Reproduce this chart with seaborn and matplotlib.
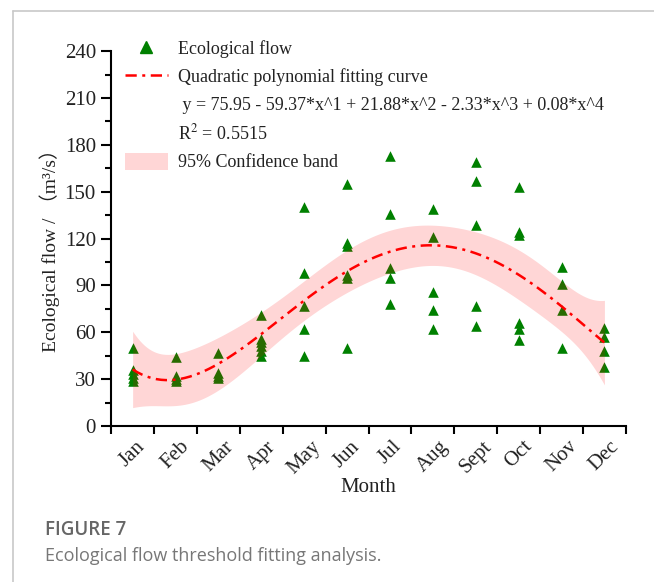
import numpy as np
import pandas as pd
import seaborn as sns
import matplotlib
matplotlib.use("Agg")
import matplotlib.pyplot as plt
from matplotlib.lines import Line2D
from matplotlib.patches import Patch

months = ["Jan", "Feb", "Mar", "Apr", "May", "Jun", "Jul", "Aug", "Sept", "Oct", "Nov", "Dec"]
jan = [50, 36, 33, 31, 29]
feb = [44, 32, 30, 29]
mar = [47, 34, 32, 31]
apr = [71, 56, 54, 51, 48, 45]
may = [140, 98, 77, 62, 45]
jun = [155, 117, 115, 97, 95, 50]
jul = [173, 136, 101, 95, 78]
aug = [139, 121, 86, 74, 62]
sep = [169, 157, 129, 77, 64]
oct_ = [153, 124, 122, 66, 62, 55]
nov = [102, 91, 74, 50]
dec = [63, 57, 48, 38]
flows = [jan, feb, mar, apr, may, jun, jul, aug, sep, oct_, nov, dec]
y_ticks = [0, 30, 60, 90, 120, 150, 180, 210, 240]

equation = "y = 75.95 - 59.37*x^1 + 21.88*x^2 - 2.33*x^3 + 0.08*x^4"
r2_text = "R$^2$ = 0.5515"

rows = []
for i, vals in enumerate(flows, start=1):
    for v in vals:
        rows.append({"month": i, "flow": v})
df = pd.DataFrame(rows)

# analytic 95% confidence band of the 4th-order polynomial fit
order = 4
xv = df["month"].to_numpy(float)
yv = df["flow"].to_numpy(float)
X = np.vander(xv, order + 1)
beta, *_ = np.linalg.lstsq(X, yv, rcond=None)
resid = yv - X @ beta
dof = len(yv) - (order + 1)
s2 = resid @ resid / dof
cov = s2 * np.linalg.inv(X.T @ X)
grid = np.linspace(xv.min(), xv.max(), 200)
G = np.vander(grid, order + 1)
yhat = G @ beta
se = np.sqrt(np.einsum("ij,jk,ik->i", G, cov, G))
t_crit = 2.005  # Student t, 0.975 quantile, ~54 dof
lo, hi = yhat - t_crit * se, yhat + t_crit * se

sns.set_theme(style="ticks")
plt.rcParams["font.family"] = ["Liberation Serif", "DejaVu Serif"]
plt.rcParams["mathtext.fontset"] = "stix"

fig = plt.figure(figsize=(6.54, 5.82), dpi=100)
ax = fig.add_axes([0.170, 0.268, 0.787, 0.644])

dash = (0, (4.5, 2.2, 1.2, 2.2))
sns.regplot(data=df, x="month", y="flow", order=order, ci=None, ax=ax, truncate=True,
            marker="^",
            scatter_kws={"s": 58, "color": "#008000", "linewidths": 0, "alpha": 1, "zorder": 1},
            line_kws={"color": "red", "lw": 1.8, "linestyle": dash, "zorder": 3})
ax.fill_between(grid, lo, hi, facecolor="red", alpha=0.16, lw=0, zorder=2)

ax.set_xlim(0.5, 12.5)
ax.set_ylim(0, 240)
ax.set_yticks(y_ticks)
ax.set_yticklabels([str(v) for v in y_ticks])
ax.set_yticks(np.arange(15, 240, 30), minor=True)
ax.set_xticks(range(1, 13))
ax.set_xticklabels(months, rotation=45, ha="center", va="top")
ax.set_xticks(np.arange(0.5, 13, 1.0), minor=True)
ax.tick_params(axis="x", which="major", length=0, labelsize=15, pad=8)
ax.tick_params(axis="x", which="minor", length=6, width=1.5, direction="out")
ax.tick_params(axis="y", which="major", length=7, width=1.5, labelsize=15, pad=4)
ax.tick_params(axis="y", which="minor", length=4, width=1.5)
ax.tick_params(which="both", color="black", labelcolor="#222222")
for s in ["top", "right"]:
    ax.spines[s].set_visible(False)
for s in ["left", "bottom"]:
    ax.spines[s].set_linewidth(1.5)
    ax.spines[s].set_color("black")

ax.set_xlabel("Month", fontsize=15, labelpad=0, color="#222222")
ax.set_ylabel("Ecological flow / （m³/s）", fontsize=14, color="#222222",
              family=["Liberation Serif", "Noto Sans CJK SC"])
ax.yaxis.set_label_coords(-0.1, 0.48)

blank = Line2D([], [], linestyle="none", marker="none")
handles = [
    Line2D([], [], linestyle="none", marker="^", color="#008000", markersize=9),
    Line2D([], [], color="red", lw=1.8, linestyle=dash),
    blank, blank,
    Patch(facecolor="red", alpha=0.16, edgecolor="none"),
]
labels = ["Ecological flow", "Quadratic polynomial fitting curve", " " + equation, r2_text,
          "95% Confidence band"]
leg = ax.legend(handles, labels, loc="upper left", bbox_to_anchor=(0.012, 1.05),
                frameon=False, fontsize=13, labelspacing=0.52, handlelength=2.4,
                handletextpad=0.55, handleheight=1.05, borderaxespad=0)
for t in leg.get_texts():
    t.set_color("#222222")

# page frame lines
fig.add_artist(Line2D([13 / 654, 13 / 654], [0, 1 - 11 / 582], color="#c8c8c8", lw=1.2,
                      transform=fig.transFigure))
fig.add_artist(Line2D([13 / 654, 1], [1 - 11 / 582, 1 - 11 / 582], color="#c8c8c8", lw=1.2,
                      transform=fig.transFigure))

fig.text(45 / 654, 1 - 530 / 582, "FIGURE 7", fontsize=13.5, color="#666666",
         family="Open Sans", weight="semibold", va="center")
fig.text(45 / 654, 1 - 556 / 582, "Ecological flow threshold fitting analysis.", fontsize=13,
         color="#777777", family="Open Sans", va="center")

fig.savefig("out.png", dpi=100)
